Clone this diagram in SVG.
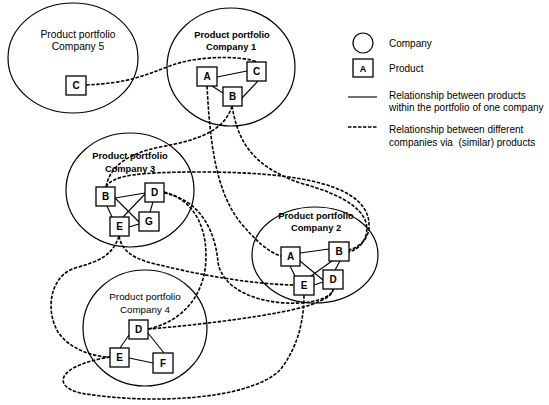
<svg xmlns="http://www.w3.org/2000/svg" width="549" height="405" viewBox="0 0 549 405">
<style>
.co{fill:none;stroke:#000;stroke-width:1.2}
.bx{fill:#fff;stroke:#000;stroke-width:1.3}
.ln{fill:none;stroke:#000;stroke-width:1.1}
.dl{fill:none;stroke:#000;stroke-width:1.6;stroke-dasharray:3.5 1.5}
.t{font-family:"Liberation Sans",Arial,sans-serif;font-size:10px;fill:#000}
.tb{font-family:"Liberation Sans",Arial,sans-serif;font-size:9.3px;font-weight:bold;fill:#000;text-anchor:middle}
.tr{font-family:"Liberation Sans",Arial,sans-serif;font-size:10.3px;fill:#000;text-anchor:middle}
.lt{font-family:"Liberation Sans",Arial,sans-serif;font-size:10px;font-weight:bold;fill:#000;text-anchor:middle}
</style>
<rect width="549" height="405" fill="#fff"/>
<g id="company5">
<ellipse class="co" cx="73" cy="58" rx="65" ry="55"/>
<text class="tr" x="78" y="38">Product portfolio</text>
<text class="tr" x="78" y="50">Company 5</text>
</g>
<g id="company1">
<ellipse class="co" cx="231" cy="67" rx="64" ry="59"/>
<text class="tb" x="232" y="38">Product portfolio</text>
<text class="tb" x="231" y="50">Company 1</text>
</g>
<g id="company3">
<ellipse class="co" cx="130" cy="190" rx="64" ry="57"/>
<text class="tb" x="130" y="159">Product portfolio</text>
<text class="tb" x="130" y="172">Company 3</text>
</g>
<g id="company2">
<ellipse class="co" cx="315" cy="255" rx="63" ry="48"/>
<text class="tb" x="316" y="219">Product portfolio</text>
<text class="tb" x="316" y="231">Company 2</text>
</g>
<g id="company4">
<ellipse class="co" cx="145" cy="328" rx="62" ry="58"/>
<text class="tr" x="145" y="300" style="font-size:9.8px">Product portfolio</text>
<text class="tr" x="145" y="313" style="font-size:9.8px">Company 4</text>
</g>
<g id="connectors">
<line class="ln" x1="217" y1="77" x2="247" y2="71"/>
<line class="ln" x1="212" y1="86" x2="223" y2="93"/>
<line class="ln" x1="242" y1="98" x2="258" y2="81"/>
<line class="ln" x1="115" y1="198" x2="145" y2="193"/>
<line class="ln" x1="115" y1="198" x2="139" y2="222"/>
<line class="ln" x1="107" y1="206" x2="112" y2="217"/>
<line class="ln" x1="123" y1="217" x2="145" y2="194"/>
<line class="ln" x1="129" y1="227" x2="139" y2="224"/>
<line class="ln" x1="153" y1="202" x2="150" y2="212"/>
<line class="ln" x1="300" y1="253" x2="329" y2="249"/>
<line class="ln" x1="300" y1="261" x2="323" y2="280"/>
<line class="ln" x1="290" y1="266" x2="295" y2="276"/>
<line class="ln" x1="311" y1="276" x2="332" y2="261"/>
<line class="ln" x1="314" y1="285" x2="323" y2="282"/>
<line class="ln" x1="340" y1="261" x2="335" y2="270"/>
<line class="ln" x1="129" y1="335" x2="120" y2="348"/>
<line class="ln" x1="148" y1="333" x2="164" y2="353"/>
<line class="ln" x1="129" y1="358" x2="153" y2="363"/>
<path class="dl" d="M86,85 C130,83 145,75 170,66 C195,56 240,55 257,62"/>
<path class="dl" d="M207,86 C210,140 215,190 240,222 C255,240 268,252 281,256"/>
<path class="dl" d="M232,106 C225,130 200,140 160,147 C130,153 110,165 106,187"/>
<path class="dl" d="M232,106 C238,140 250,165 300,183 C345,195 372,212 366,235 C363,245 356,250 349,252"/>
<path class="dl" d="M106,187 C112,175 140,172 200,172 C300,172 372,185 369,228 C368,240 358,248 349,250"/>
<path class="dl" d="M164,192 C195,200 210,230 205,270 C200,300 180,322 148,329"/>
<path class="dl" d="M164,193 C200,200 215,230 218,262 C222,290 260,305 300,303 C320,302 333,295 333,289"/>
<path class="dl" d="M148,329 C200,325 280,315 310,305 C325,300 333,295 333,289"/>
<path class="dl" d="M119,236 C122,252 135,260 160,265 C200,275 250,284 294,285"/>
<path class="dl" d="M119,236 C112,258 95,262 75,268 C50,276 45,310 58,332 C70,350 95,357 110,357"/>
<path class="dl" d="M110,357 C60,365 50,385 80,393 C150,405 250,400 280,370 C300,345 304,315 304,295"/>
</g>
<g id="c5-C"><rect class="bx" x="66" y="76" width="20" height="19"/><text class="lt" x="76" y="89">C</text></g>
<g id="c1-A"><rect class="bx" x="197" y="67" width="20" height="19"/><text class="lt" x="207" y="80">A</text></g>
<g id="c1-C"><rect class="bx" x="247" y="62" width="19" height="19"/><text class="lt" x="256.5" y="75">C</text></g>
<g id="c1-B"><rect class="bx" x="223" y="87" width="19" height="19"/><text class="lt" x="232.5" y="100">B</text></g>
<g id="c3-B"><rect class="bx" x="96" y="187" width="19" height="19"/><text class="lt" x="105.5" y="200">B</text></g>
<g id="c3-D"><rect class="bx" x="145" y="183" width="19" height="19"/><text class="lt" x="154.5" y="196">D</text></g>
<g id="c3-E"><rect class="bx" x="110" y="217" width="19" height="19"/><text class="lt" x="119.5" y="230">E</text></g>
<g id="c3-G"><rect class="bx" x="139" y="212" width="20" height="19"/><text class="lt" x="149" y="225">G</text></g>
<g id="c2-A"><rect class="bx" x="281" y="247" width="19" height="19"/><text class="lt" x="290.5" y="260">A</text></g>
<g id="c2-B"><rect class="bx" x="329" y="242" width="20" height="19"/><text class="lt" x="339" y="255">B</text></g>
<g id="c2-E"><rect class="bx" x="294" y="276" width="20" height="19"/><text class="lt" x="304" y="289">E</text></g>
<g id="c2-D"><rect class="bx" x="323" y="270" width="20" height="19"/><text class="lt" x="333" y="283">D</text></g>
<g id="c4-D"><rect class="bx" x="129" y="320" width="19" height="19"/><text class="lt" x="138.5" y="333">D</text></g>
<g id="c4-E"><rect class="bx" x="110" y="348" width="19" height="19"/><text class="lt" x="119.5" y="361">E</text></g>
<g id="c4-F"><rect class="bx" x="153" y="353" width="20" height="20"/><text class="lt" x="163" y="367">F</text></g>
<g id="legend">
<circle class="co" cx="363" cy="43" r="10"/>
<text class="t" x="389" y="47">Company</text>
<rect class="bx" x="353" y="59" width="20" height="18"/>
<text class="lt" x="363" y="72" style="font-size:9px">A</text>
<text class="t" x="389" y="72">Product</text>
<line class="ln" x1="348" y1="97" x2="377" y2="97"/>
<text class="t" x="389" y="99">Relationship between products</text>
<text class="t" x="389" y="111">within the portfolio of one company</text>
<line class="dl" x1="348" y1="127" x2="377" y2="127" style="stroke-width:1.3"/>
<text class="t" x="389" y="133">Relationship between different</text>
<text class="t" x="389" y="146" style="white-space:pre">companies via  (similar) products</text>
</g>
</svg>
